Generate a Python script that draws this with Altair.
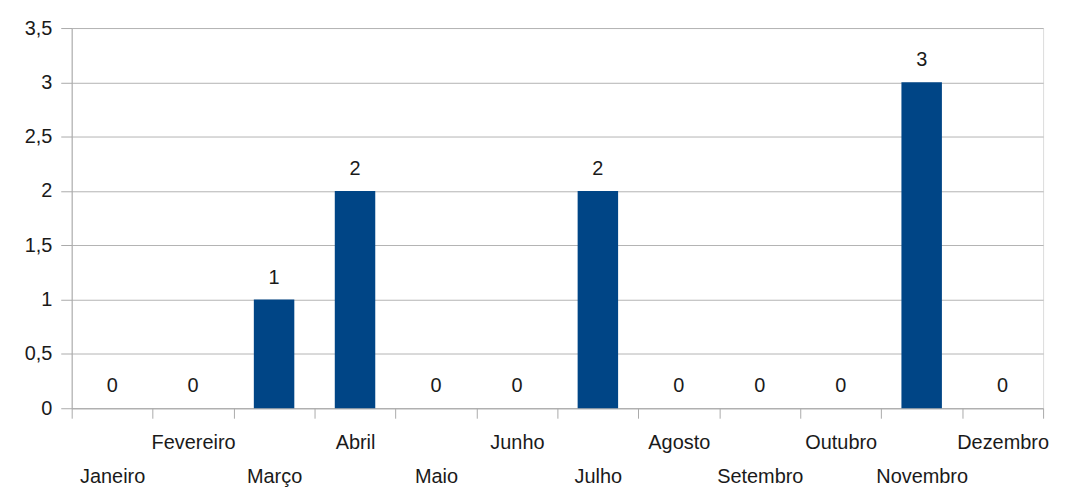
import altair as alt
import pandas as pd

months = ["Janeiro", "Fevereiro", "Março", "Abril", "Maio", "Junho",
          "Julho", "Agosto", "Setembro", "Outubro", "Novembro", "Dezembro"]
values = [0, 0, 1, 2, 0, 0, 2, 0, 0, 0, 3, 0]

df = pd.DataFrame({"mes": months, "valor": values})

month_list = "[" + ",".join("'" + m + "'" for m in months) + "]"
x_label_expr = f"indexof({month_list}, datum.value) % 2 == 0 ? ['', datum.label] : datum.label"

FONT = "Liberation Sans"
TXT = "#1a1a1a"

x = alt.X("mes:N", sort=months, title=None,
          scale=alt.Scale(paddingInner=0, paddingOuter=0),
          axis=alt.Axis(labelAngle=0, tickBand="extent", tickSize=10,
                        labelExpr=x_label_expr, labelLineHeight=35,
                        labelFontSize=20, labelColor=TXT, labelFont=FONT,
                        labelPadding=14, domainColor="#aaaaaa", tickColor="#aaaaaa",
                        grid=False, labelOverlap=False, labelBaseline="top"))
y = alt.Y("valor:Q", title=None,
          scale=alt.Scale(domain=[0, 3.5], nice=False),
          axis=alt.Axis(values=[0, 0.5, 1, 1.5, 2, 2.5, 3, 3.5],
                        labelExpr="replace(format(datum.value, '.1~f'), '.', ',')",
                        labelFontSize=20, labelColor=TXT, labelFont=FONT,
                        tickSize=11, labelPadding=9,
                        gridColor="#b3b3b3", domainColor="#aaaaaa", tickColor="#aaaaaa"))

bars = alt.Chart(df).mark_bar(color="#004586", width=alt.RelativeBandSize(0.5)).encode(x=x, y=y)
labels = alt.Chart(df).mark_text(baseline="alphabetic", dy=-16, fontSize=20,
                                 font=FONT, color=TXT).encode(
    x=alt.X("mes:N", sort=months), y=alt.Y("valor:Q"), text="valor:Q")

chart = alt.layer(bars, labels).properties(
    width=976, height=382,
    autosize=alt.AutoSizeParams(type="none"),
    padding={"left": 64, "top": 19, "right": 20, "bottom": 80},
).configure_view(stroke=None).configure(background="white")

chart.save("out.html", embed_options={"renderer": "svg", "actions": False})
